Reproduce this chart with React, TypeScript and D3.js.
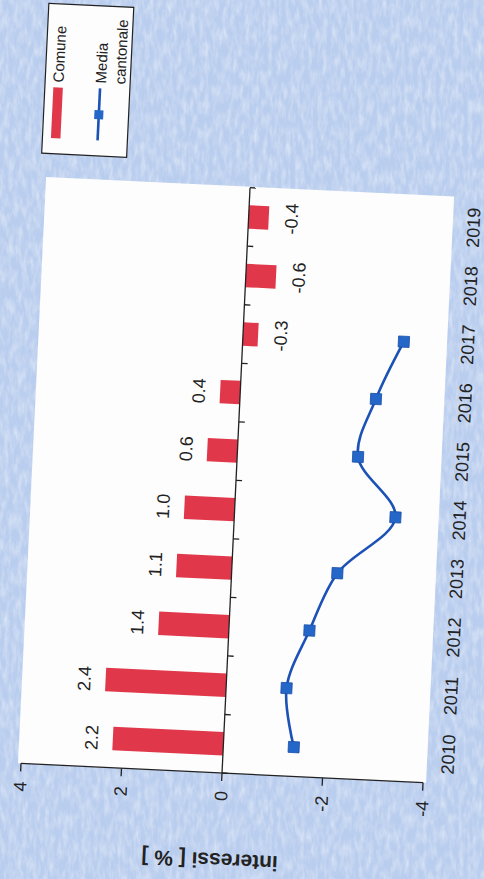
import React from "react";
import * as d3 from "d3";

const years = ["2010", "2011", "2012", "2013", "2014", "2015", "2016", "2017", "2018", "2019"];
const comune = [2.2, 2.4, 1.4, 1.1, 1.0, 0.6, 0.4, -0.3, -0.6, -0.4];
const mediaYears = ["2010", "2011", "2012", "2013", "2014", "2015", "2016", "2017"];
const mediaCantonale = [-1.4, -1.2, -1.6, -2.1, -3.2, -2.4, -2.7, -3.2];
const valueTicks = [-4, -2, 0, 2, 4];
const legendLabels = ["Comune", "Media", "cantonale"];
const axisTitle = "interessi [ % ]";

const W = 484;
const H = 879;
const ORIGIN_X = 21;
const ORIGIN_Y = 763.4;
const ANGLE = -87.26;
const PLOT_W = 586;
const PLOT_H = 402.5;

const FONT = "Arial, 'Liberation Sans', Helvetica, sans-serif";
const BAR = "#e0384a";
const LINE = "#1c52b6";
const MARK = "#2467c9";

export default function App() {
  const x = d3.scaleBand<string>().domain(years).range([0, PLOT_W]).paddingInner(0.6).paddingOuter(0.3);
  const xBound = d3.scaleLinear().domain([0, years.length]).range([0, PLOT_W]);
  const y = d3.scaleLinear().domain([-4, 4]).range([PLOT_H, 0]);
  const bw = x.bandwidth();
  const cx = (yr: string) => (x(yr) as number) + bw / 2;

  const line = d3
    .line<number>()
    .x((_, i) => cx(mediaYears[i]))
    .y((d) => y(d))
    .curve(d3.curveCatmullRom.alpha(0.5));

  const boundaries = d3.range(0, years.length + 1);
  const y0 = y(0);

  return (
    <svg width={W} height={H} style={{ position: "absolute", left: 0, top: 0, display: "block" }}>
      <defs>
        <filter id="paper" x="0" y="0" width="100%" height="100%">
          <feTurbulence type="fractalNoise" baseFrequency="0.22 0.07" numOctaves="3" seed="11" />
          <feColorMatrix type="matrix" values="0 0 0 0 1  0 0 0 0 1  0 0 0 0 1  1.4 0 0 0 -0.5" />
        </filter>
      </defs>
      <rect x={0} y={0} width={W} height={H} fill="#b9cdee" />
      <rect x={0} y={0} width={W} height={H} filter="url(#paper)" opacity={0.55} />

      <g transform={`translate(${ORIGIN_X},${ORIGIN_Y}) rotate(${ANGLE})`} fontFamily={FONT}>
        {/* plot background */}
        <rect x={0} y={-3} width={PLOT_W + 1} height={PLOT_H + 6} fill="#fdfdfd" />

        {/* bars */}
        {comune.map((v, i) => {
          const top = v >= 0 ? y(v) : y0;
          const h = Math.abs(y(v) - y0);
          return <rect key={years[i]} x={x(years[i])} y={top} width={bw} height={h} fill={BAR} />;
        })}

        {/* bar labels */}
        {comune.map((v, i) => (
          <text
            key={"l" + years[i]}
            x={cx(years[i])}
            y={v >= 0 ? y(v) - 15 : y(v) + 29}
            textAnchor="middle"
            fontSize={18}
            fill="#222"
          >
            {v.toFixed(1)}
          </text>
        ))}

        {/* zero axis with ticks at category boundaries */}
        <line x1={0} x2={PLOT_W} y1={y0} y2={y0} stroke="#222" strokeWidth={1.3} />
        {boundaries.map((b) => (
          <line key={"t" + b} x1={xBound(b)} x2={xBound(b)} y1={y0} y2={y0 + 6} stroke="#222" strokeWidth={1.3} />
        ))}

        {/* value axis */}
        <line x1={0} x2={0} y1={0} y2={PLOT_H} stroke="#222" strokeWidth={1.3} />
        {valueTicks.map((t) => (
          <g key={"v" + t}>
            <line x1={-8} x2={0} y1={y(t)} y2={y(t)} stroke="#222" strokeWidth={1.3} />
            <text x={-18} y={y(t)} dy="0.35em" textAnchor="end" fontSize={18} fill="#222">
              {t}
            </text>
          </g>
        ))}
        <text
          transform={`translate(-80.5,193) rotate(-90)`}
          textAnchor="middle"
          fontSize={21}
          fontWeight="bold"
          fill="#222"
        >
          {axisTitle}
        </text>

        {/* year labels */}
        {years.map((yr) => (
          <text key={"y" + yr} x={cx(yr)} y={432.5} textAnchor="middle" fontSize={18} fill="#222">
            {yr}
          </text>
        ))}

        {/* media cantonale line */}
        <path d={line(mediaCantonale) || ""} fill="none" stroke={LINE} strokeWidth={2.6} />
        {mediaCantonale.map((v, i) => (
          <rect
            key={"m" + i}
            x={cx(mediaYears[i]) - 5.5}
            y={y(v) - 5.5}
            width={11}
            height={11}
            fill={MARK}
            stroke="#1a4fa8"
            strokeWidth={0.8}
          />
        ))}

        {/* legend */}
        <g>
          <rect x={610.5} y={-8.5} width={150} height={85} fill="#fdfdfd" stroke="#222" strokeWidth={1.2} />
          <rect x={626} y={0} width={51} height={9.5} fill={BAR} />
          <text x={682} y={10} fontSize={15} fill="#222">
            {legendLabels[0]}
          </text>
          <line x1={626} x2={678} y1={46.7} y2={46.7} stroke={LINE} strokeWidth={2.6} />
          <rect x={651.7 - 4.5} y={46.7 - 4.5} width={9} height={9} fill={MARK} />
          <text x={683} y={52.4} fontSize={15} fill="#222">
            {legendLabels[1]}
          </text>
          <text x={683} y={71.6} fontSize={15} fill="#222">
            {legendLabels[2]}
          </text>
        </g>
      </g>
    </svg>
  );
}
